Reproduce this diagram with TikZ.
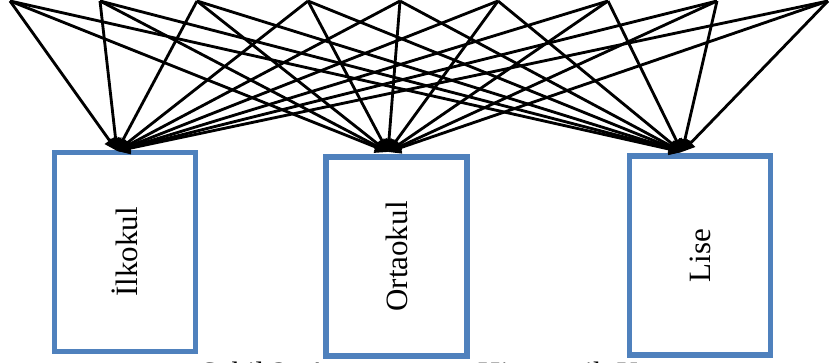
\documentclass[tikz,border=0pt]{standalone}
\usepackage{fontspec}
\setmainfont{Liberation Serif}
\usetikzlibrary{arrows.meta}

\definecolor{boxblue}{RGB}{79,129,189}
\tikzset{
    schoolbox/.style={draw=boxblue, line width=2.1pt, fill=white, rotate=90,
        minimum width=77pt, minimum height=54.6pt, inner sep=0pt,
        font=\fontsize{12}{14}\selectfont},
    link/.style={-{Triangle[length=5pt,width=4.4pt]}, line width=1.1pt},
}

\begin{document}
\begin{tikzpicture}[x=0.387pt, y=-0.387pt]
        \useasboundingbox (0,0) rectangle (830,363);
        % caption, cut by the lower edge
        \node[anchor=base west, inner sep=0pt, font=\fontsize{12}{14}\selectfont] (cap) at (200,384)
            {Şekil 2: Araştırmanın Hiyerarşik Kurgusu};
        \node[schoolbox] (ilk)  at (125,252)   {İlkokul};
        \node[schoolbox] (orta) at (396.5,256.5) {Ortaokul};
        \node[schoolbox] (lise) at (700,255.5) {Lise};
        \coordinate (ilkTip)  at (117,151);
        \coordinate (ortaTip) at (388,152);
        \coordinate (liseTip) at (682,152);
        \coordinate (s1) at (10,1);
        \coordinate (s2) at (100,1);
        \coordinate (s3) at (197,1);
        \coordinate (s4) at (308,1);
        \coordinate (s5) at (400,1);
        \coordinate (s6) at (498,1);
        \coordinate (s7) at (608,1);
        \coordinate (s8) at (717,1);
        \coordinate (s9) at (828,1);
        \draw[link] (s1) -- (ilkTip); \draw[link] (s1) -- (ortaTip); \draw[link] (s1) -- (liseTip);
        \draw[link] (s2) -- (ilkTip); \draw[link] (s2) -- (ortaTip); \draw[link] (s2) -- (liseTip);
        \draw[link] (s3) -- (ilkTip); \draw[link] (s3) -- (ortaTip); \draw[link] (s3) -- (liseTip);
        \draw[link] (s4) -- (ilkTip); \draw[link] (s4) -- (ortaTip); \draw[link] (s4) -- (liseTip);
        \draw[link] (s5) -- (ilkTip); \draw[link] (s5) -- (ortaTip); \draw[link] (s5) -- (liseTip);
        \draw[link] (s6) -- (ilkTip); \draw[link] (s6) -- (ortaTip); \draw[link] (s6) -- (liseTip);
        \draw[link] (s7) -- (ilkTip); \draw[link] (s7) -- (ortaTip); \draw[link] (s7) -- (liseTip);
        \draw[link] (s8) -- (ilkTip); \draw[link] (s8) -- (ortaTip); \draw[link] (s8) -- (liseTip);
        \draw[link] (s9) -- (ilkTip); \draw[link] (s9) -- (ortaTip); \draw[link] (s9) -- (liseTip);
    \end{tikzpicture}
\end{document}
